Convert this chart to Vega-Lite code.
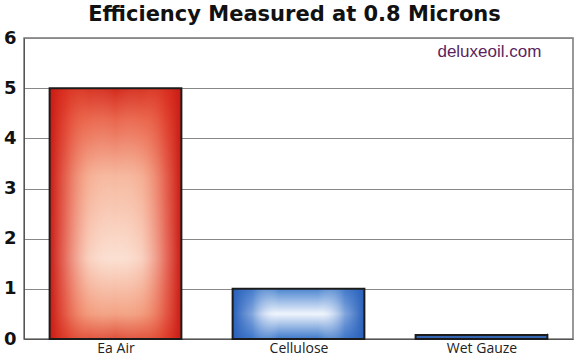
{
  "$schema": "https://vega.github.io/schema/vega-lite/v6.json",
  "width": 549,
  "height": 301,
  "autosize": {"type": "none"},
  "padding": {"left": 24, "top": 38, "right": 2, "bottom": 19},
  "background": "white",
  "title": {"text": "Efficiency Measured at 0.8 Microns", "font": "DejaVu Sans", "fontSize": 21, "fontWeight": "bold", "color": "#111", "anchor": "middle", "offset": 4, "dx": -4},
  "config": {"view": {"stroke": "#777", "strokeWidth": 1.5}},
  "data": {"values": [
    {"filter": "Ea Air", "efficiency": 5},
    {"filter": "Cellulose", "efficiency": 1},
    {"filter": "Wet Gauze", "efficiency": 0.08}
  ]},
  "layer": [
    {
      "mark": {"type": "bar", "strokeWidth": 0},
      "encoding": {
        "x": {"field": "filter", "type": "nominal", "sort": ["Ea Air", "Cellulose", "Wet Gauze"],
          "scale": {"paddingInner": 0.28, "paddingOuter": 0.14},
          "axis": {"title": null, "labelAngle": 0, "labelFont": "Open Sans", "labelFontSize": 14, "labelColor": "#222", "labelPadding": 8, "tickBand": "extent", "tickSize": -6, "tickColor": "#777", "domainColor": "#555", "grid": false}},
        "y": {"field": "efficiency", "type": "quantitative",
          "scale": {"domain": [0, 6], "nice": false},
          "axis": {"title": null, "values": [0, 1, 2, 3, 4, 5, 6], "grid": true, "gridColor": "#888", "gridWidth": 1, "ticks": false, "domainColor": "#555", "labelFont": "DejaVu Sans", "labelFontSize": 18, "labelFontWeight": "bold", "labelColor": "#111", "labelPadding": 8}},
        "fill": {
          "condition": [
            {"test": "datum.filter === 'Ea Air'", "value": {"gradient": "linear", "x1": 0, "y1": 0, "x2": 0, "y2": 1, "stops": [{"offset": 0, "color": "#d42a1c"}, {"offset": 0.12, "color": "#e9634a"}, {"offset": 0.35, "color": "#f6b89e"}, {"offset": 0.68, "color": "#fbe0d2"}, {"offset": 0.9, "color": "#f3a283"}, {"offset": 1, "color": "#e0503a"}]}},
            {"test": "datum.filter === 'Wet Gauze'", "value": "#3466b4"}
          ],
          "value": {"gradient": "linear", "x1": 0, "y1": 0, "x2": 0, "y2": 1, "stops": [{"offset": 0, "color": "#4d86d0"}, {"offset": 0.5, "color": "#f0f5fd"}, {"offset": 1, "color": "#3f7acb"}]}
        }
      }
    },
    {
      "mark": {"type": "bar", "stroke": "#1c1c1c", "strokeWidth": 2},
      "encoding": {
        "x": {"field": "filter", "type": "nominal", "sort": ["Ea Air", "Cellulose", "Wet Gauze"]},
        "y": {"field": "efficiency", "type": "quantitative"},
        "fill": {
          "condition": [
            {"test": "datum.filter === 'Ea Air'", "value": {"gradient": "linear", "x1": 0, "y1": 0, "x2": 1, "y2": 0, "stops": [{"offset": 0, "color": "rgba(200,25,18,1)"}, {"offset": 0.12, "color": "rgba(220,50,35,0.65)"}, {"offset": 0.3, "color": "rgba(240,120,90,0.15)"}, {"offset": 0.5, "color": "rgba(255,255,255,0)"}, {"offset": 0.7, "color": "rgba(240,120,90,0.15)"}, {"offset": 0.88, "color": "rgba(220,50,35,0.65)"}, {"offset": 1, "color": "rgba(200,25,18,1)"}]}},
            {"test": "datum.filter === 'Wet Gauze'", "value": "rgba(0,0,0,0)"}
          ],
          "value": {"gradient": "linear", "x1": 0, "y1": 0, "x2": 1, "y2": 0, "stops": [{"offset": 0, "color": "rgba(40,95,185,1)"}, {"offset": 0.15, "color": "rgba(60,115,200,0.6)"}, {"offset": 0.35, "color": "rgba(255,255,255,0)"}, {"offset": 0.65, "color": "rgba(255,255,255,0)"}, {"offset": 0.85, "color": "rgba(60,115,200,0.6)"}, {"offset": 1, "color": "rgba(40,95,185,1)"}]}
        }
      }
    },
    {
      "data": {"values": [{"site": "deluxeoil.com", "filter": "Wet Gauze", "efficiency": 5.72}]},
      "mark": {"type": "text", "align": "right", "baseline": "middle", "font": "Liberation Sans", "fontSize": 17, "color": "#5c1f5e", "dx": -6},
      "encoding": {
        "x": {"field": "filter", "type": "nominal", "sort": ["Ea Air", "Cellulose", "Wet Gauze"], "bandPosition": 1},
        "y": {"field": "efficiency", "type": "quantitative"},
        "text": {"field": "site"}
      }
    }
  ]
}
